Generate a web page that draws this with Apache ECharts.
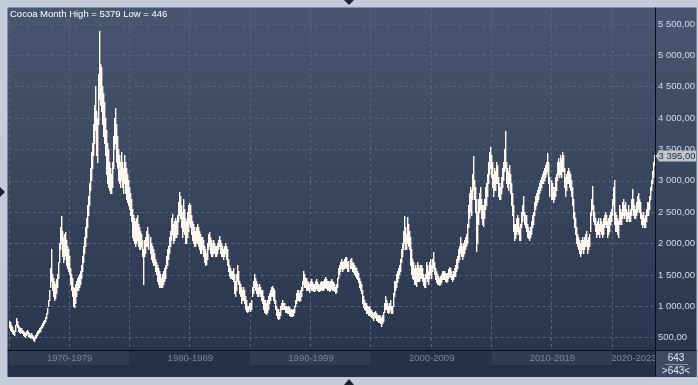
<!DOCTYPE html>
<html><head><meta charset="utf-8">
<script src="https://cdn.jsdelivr.net/npm/echarts@6/dist/echarts.min.js"></script>
<style>html,body{margin:0;padding:0;background:#c3cdd9}#c{width:698px;height:385px}</style>
</head><body><div id="c"></div>
<script>
// ---------- data ----------
const titleText = 'Cocoa Month High = 5379 Low = 446';
const startYear = 1970;
const decadeLabels = ['1970-1979','1980-1989','1990-1999','2000-2009','2010-2019','2020-2023'];
const yTicks = [500,1000,1500,2000,2500,3000,3500,4000,4500,5000,5500];
const lastValue = 3395;
const lows = [
660,620,600,560,550,540,600,700,660,600,580,560,
580,560,540,520,500,540,560,520,500,480,500,480,
460,446,480,500,540,560,580,600,640,660,700,720,
760,800,880,1000,1100,1300,1400,1250,1150,1100,1120,1200,
1300,1450,1700,1900,2000,1800,1700,1750,1800,1650,1600,1550,
1500,1350,1250,1150,1000,980,1050,1150,1250,1250,1300,1350,
1450,1550,1700,1850,1950,2100,2250,2450,2600,2850,3000,3200,
3400,3600,3800,3400,3300,3900,4300,4200,4100,3900,3700,3600,
3400,3100,2950,2900,2850,2800,2800,2900,3200,3500,3600,3300,
3200,3000,2950,2900,3000,2900,2800,2950,2800,2700,2650,2600,
2550,2450,2350,2100,2050,2000,1950,2000,2050,1950,1900,1900,
1950,1800,1350,1800,1850,1950,1950,1900,1850,1750,1700,1650,
1650,1550,1500,1400,1350,1300,1300,1300,1300,1350,1400,1450,
1600,1650,1750,1850,1950,2050,2150,2000,2050,2100,2100,2150,
2350,2450,2400,2250,2100,2200,2150,2000,2000,2100,2200,2300,
2250,2150,2050,2000,1950,1950,2000,2000,1950,1900,1850,1850,
1900,1800,1700,1650,1665,1750,1900,1950,1850,1800,1800,1850,
1850,1800,1800,1850,1900,1950,1850,1800,1800,1750,1800,1850,
1750,1650,1550,1480,1450,1450,1420,1400,1200,1160,1250,1400,
1350,1200,1150,1050,1100,1100,1050,950,920,900,920,950,
920,950,1150,1200,1300,1250,1200,1150,1150,1200,1150,1100,
1050,950,900,880,870,900,950,1050,1100,1150,1150,1100,
1050,950,850,800,790,800,850,950,950,950,950,900,
900,880,880,860,840,840,830,850,900,1000,1050,1100,
1100,1080,1100,1150,1250,1350,1300,1300,1250,1250,1250,1220,
1280,1260,1250,1240,1240,1260,1280,1250,1240,1230,1250,1270,
1250,1260,1280,1300,1280,1260,1250,1240,1260,1280,1260,1250,
1230,1200,1220,1300,1450,1500,1550,1600,1550,1580,1600,1620,
1600,1550,1560,1600,1600,1560,1540,1500,1480,1450,1420,1380,
1300,1250,1200,1050,980,950,930,880,880,850,860,830,
820,800,780,800,820,780,760,750,740,720,680,720,
760,900,950,950,900,880,900,950,880,880,1000,1150,
1250,1300,1380,1450,1500,1550,1700,1800,1900,2000,1900,1900,
2000,1950,1900,1650,1500,1450,1420,1350,1350,1320,1400,1400,
1400,1450,1450,1400,1330,1300,1300,1450,1400,1350,1450,1500,
1450,1550,1600,1500,1420,1380,1350,1350,1330,1350,1380,1420,
1420,1430,1400,1380,1400,1450,1480,1460,1420,1400,1430,1470,
1480,1550,1600,1700,1750,1850,1800,1750,1800,1850,1900,1950,
2000,2250,2400,2500,2450,2700,2850,2700,2500,1870,2000,2300,
2500,2550,2400,2300,2280,2400,2550,2600,2750,2950,3100,3200,
3050,2900,2750,2850,2850,2950,2950,2750,2700,2700,2800,2900,
3000,3150,3200,2950,2900,2850,2950,2800,2600,2450,2200,2050,
2080,2150,2200,2150,2050,2050,2250,2350,2450,2300,2250,2200,
2100,2080,2050,2100,2150,2250,2300,2450,2550,2600,2650,2700,
2800,2850,2900,2950,2950,3000,3050,3100,3150,2950,2750,2700,
2700,2650,2700,2750,2850,3000,3100,3050,3100,3050,3150,3150,
2900,2750,2850,2950,2950,2900,2850,2750,2600,2400,2250,2150,
2000,1950,1900,1850,1800,1850,1900,1850,1900,1950,1950,1850,
1900,1950,2200,2450,2550,2350,2300,2200,2100,2150,2150,2100,
2200,2150,2100,2150,2250,2300,2250,2100,2150,2200,2300,2350,
2450,2600,2300,2200,2200,2150,2100,2300,2300,2300,2400,2450,
2400,2450,2350,2350,2400,2350,2350,2450,2550,2450,2400,2400,
2450,2500,2550,2500,2400,2300,2250,2300,2250,2250,2350,2450,
2450,2550,2700,2850,2950,3050,3250
];
const highs = [
760,740,700,660,620,600,700,800,760,700,660,640,
640,620,600,580,560,600,620,580,560,540,560,540,
520,500,540,560,600,620,640,660,700,720,760,780,
820,880,960,1100,1250,1600,1900,1500,1450,1400,1350,1420,
1500,1700,2000,2250,2430,2200,2100,2150,2175,2050,1950,1900,
1800,1600,1500,1450,1300,1280,1350,1400,1450,1480,1500,1550,
1650,1800,1950,2100,2250,2400,2600,2750,2950,3200,3450,3600,
3900,4200,4500,4100,4000,4700,5379,4850,4800,4500,4400,4250,
4000,3800,3600,3500,3300,3200,3100,3300,3700,4000,4157,3900,
3700,3500,3400,3300,3450,3300,3200,3400,3300,3200,3100,3000,
2900,2800,2700,2550,2450,2400,2350,2400,2450,2300,2250,2200,
2150,2050,1900,2050,2100,2200,2250,2150,2100,2000,1950,1900,
1850,1750,1700,1650,1600,1550,1500,1450,1500,1550,1600,1650,
1800,1900,1950,2100,2200,2400,2465,2300,2350,2400,2350,2450,
2650,2815,2750,2600,2500,2700,2550,2400,2350,2500,2600,2640,
2600,2450,2350,2300,2250,2200,2250,2300,2250,2200,2150,2100,
2100,2050,1950,1900,1850,2000,2150,2175,2100,2050,2000,2050,
2000,1950,1950,2000,2050,2115,2050,2000,1950,1900,1950,2000,
1950,1900,1750,1650,1600,1550,1550,1600,1500,1400,1500,1650,
1550,1400,1350,1300,1250,1300,1250,1150,1100,1000,1000,1050,
1050,1100,1300,1400,1500,1450,1400,1350,1300,1350,1300,1250,
1250,1150,1100,1100,1050,1100,1150,1200,1250,1300,1320,1280,
1250,1100,1000,950,950,900,1000,1050,1100,1050,1050,1000,
1000,980,1000,980,950,950,930,950,1000,1100,1200,1250,
1250,1200,1250,1300,1400,1555,1500,1450,1450,1400,1380,1350,
1400,1420,1380,1350,1350,1400,1420,1380,1350,1330,1380,1400,
1380,1400,1420,1460,1420,1400,1400,1380,1400,1420,1400,1380,
1350,1300,1350,1450,1600,1650,1700,1750,1700,1720,1750,1780,
1780,1700,1720,1750,1760,1700,1680,1650,1620,1600,1560,1520,
1450,1400,1350,1250,1150,1100,1050,1050,1000,980,1000,950,
930,900,880,900,920,880,860,850,850,840,800,850,
900,1050,1150,1100,1050,1000,1050,1100,1000,1000,1200,1395,
1400,1500,1550,1600,1650,1750,1900,2000,2200,2430,2250,2150,
2420,2300,2200,2100,1900,1750,1700,1600,1650,1600,1700,1650,
1600,1650,1650,1600,1500,1450,1500,1700,1650,1550,1700,1750,
1650,1750,1855,1700,1600,1550,1500,1480,1450,1480,1500,1550,
1550,1560,1520,1500,1520,1580,1620,1600,1550,1500,1560,1600,
1650,1750,1800,1900,1950,2100,2000,1950,2000,2050,2100,2150,
2300,2600,2800,2900,2850,3100,3390,3000,2900,2700,2500,2700,
2800,2900,2700,2600,2600,2700,2900,2950,3100,3300,3450,3535,
3400,3300,3100,3200,3150,3300,3250,3050,2950,2900,3050,3200,
3300,3500,3790,3300,3200,3150,3250,3100,2950,2800,2600,2300,
2300,2400,2450,2400,2250,2300,2500,2600,2750,2500,2450,2450,
2300,2250,2200,2250,2350,2450,2500,2650,2750,2800,2850,2900,
2950,3000,3050,3100,3150,3200,3250,3300,3440,3300,3050,3000,
2950,2900,2900,3050,3100,3300,3350,3300,3400,3350,3450,3400,
3200,3050,3100,3150,3200,3150,3100,3000,2900,2700,2500,2400,
2250,2150,2100,2050,2000,2050,2100,2050,2100,2150,2200,2050,
2100,2150,2500,2700,2915,2600,2500,2400,2300,2350,2400,2300,
2400,2350,2300,2400,2450,2500,2450,2350,2400,2450,2500,2550,
2700,2900,3005,2500,2450,2400,2350,2600,2550,2500,2650,2700,
2600,2650,2550,2500,2600,2500,2550,2700,2865,2700,2600,2550,
2650,2750,2800,2700,2650,2500,2450,2500,2400,2450,2550,2650,
2650,2750,2900,3000,3150,3300,3400
];

// ---------- derived ----------
const monthCount = lows.length;
const months = [];
for (let i = 0; i < monthCount; i++) {
  const m = (i % 12) + 1;
  months.push((startYear + Math.floor(i / 12)) + '-' + (m < 10 ? '0' + m : m));
}
const barData = lows.map((lo, i) => [i, lo, highs[i]]);
const decadeStarts = decadeLabels.map(l => (parseInt(l, 10) - startYear) * 12);
const labelIdx = decadeStarts.map((s, j) => {
  const e = j + 1 < decadeStarts.length ? decadeStarts[j + 1] - 1 : monthCount - 1;
  return Math.round((s + e) / 2);
});
function fmt(v) {
  return Math.round(v).toString().replace(/\B(?=(\d{3})+(?!\d))/g, ' ') + ',00';
}

// ---------- layout ----------
const W = 698, H = 385;
const L = 8.8, R = 655.5, T = 8, B = 350;
const yMin = 304, yMax = 5755;
const FONT = 'Liberation Sans, Arial, sans-serif';
const grid = { color: '#56657e', type: [3, 3], width: 1 };
const barColor = '#fff7f0';

const chart = echarts.init(document.getElementById('c'), null, { renderer: 'canvas' });

function staticGraphics(yv) {
  const g = [
    { type: 'rect', z: -100, shape: { x: 7.5, y: 7.5, width: 689, height: 343.5 },
      style: { fill: new echarts.graphic.LinearGradient(0, 0, 0, 1, [
        { offset: 0, color: '#48576f' }, { offset: 1, color: '#29354d' }]) } },
    { type: 'rect', z: -100, shape: { x: 7.5, y: 351, width: 689, height: 26 }, style: { fill: '#243048' } },
    { type: 'rect', z: -90, shape: { x: 656, y: 351, width: 40.5, height: 25.5 }, style: { fill: '#3d4a62' } },
    { type: 'line', z: 100, shape: { x1: 7.5, y1: 350.5, x2: 696.5, y2: 350.5 }, style: { stroke: '#0a0e16', lineWidth: 1 } },
    { type: 'line', z: 100, shape: { x1: 655.5, y1: 7.5, x2: 655.5, y2: 376.5 }, style: { stroke: '#0a0e16', lineWidth: 1 } },
    { type: 'line', z: 100, shape: { x1: 665, y1: 364.5, x2: 688, y2: 364.5 }, style: { stroke: '#8795ab', lineWidth: 1 } },
    { type: 'text', z: 100, x: 676, y: 358, style: { text: String(monthCount), fill: '#e2e8f1', font: '10px ' + FONT, align: 'center', verticalAlign: 'middle' } },
    { type: 'text', z: 100, x: 676, y: 371, style: { text: '>' + monthCount + '<', fill: '#e2e8f1', font: '10px ' + FONT, align: 'center', verticalAlign: 'middle' } },
    { type: 'polygon', z: 100, shape: { points: [[344, 0], [354, 0], [349, 5]] }, style: { fill: '#1b2333' } },
    { type: 'polygon', z: 100, shape: { points: [[344, 385], [354, 385], [349, 379]] }, style: { fill: '#1b2333' } },
    { type: 'polygon', z: 100, shape: { points: [[0, 187], [0, 197], [5, 192]] }, style: { fill: '#1b2333' } }
  ];
  if (yv != null) {
    g.push(
      { type: 'polygon', z: 110, shape: { points: [[655.5, yv], [659.5, yv - 5.5], [659.5, yv + 5.5]] }, style: { fill: '#c3c7cd' } },
      { type: 'rect', z: 110, shape: { x: 658.5, y: yv - 5.5, width: 37.5, height: 11 }, style: { fill: '#c3c7cd' } },
      { type: 'text', z: 111, x: 677, y: yv + 0.5, style: { text: fmt(lastValue), fill: '#18263d', font: '9.5px ' + FONT, align: 'center', verticalAlign: 'middle' } }
    );
  }
  return g;
}

chart.setOption({
  animation: false,
  backgroundColor: 'transparent',
  title: {
    text: titleText, left: 10, top: 9, padding: 0,
    textStyle: { color: '#ffffff', fontSize: 9.5, fontWeight: 'normal', fontFamily: FONT }
  },
  grid: [
    { left: L, right: W - R, top: T, bottom: H - B },
    { left: L, right: W - R, top: 351, height: 14 }
  ],
  xAxis: [
    { type: 'category', gridIndex: 0, data: months, boundaryGap: true,
      axisLine: { show: false }, axisTick: { show: false }, axisLabel: { show: false },
      splitLine: { show: true, interval: 59, lineStyle: grid } },
    { type: 'category', gridIndex: 1, data: months, boundaryGap: true,
      axisLine: { show: false }, axisTick: { show: false }, splitLine: { show: false },
      splitArea: { show: true, interval: 119, areaStyle: { color: ['#2f3c54', '#263249'] } },
      axisLabel: { show: true, inside: true, margin: 2,
        interval: (i) => labelIdx.indexOf(i) >= 0,
        formatter: (v, i) => decadeLabels[labelIdx.indexOf(i)],
        color: '#7a879d', fontSize: 9.5, fontFamily: FONT } }
  ],
  yAxis: [
    { type: 'value', gridIndex: 0, position: 'right', min: yMin, max: yMax,
      axisLine: { show: false }, axisTick: { show: false, customValues: yTicks },
      axisLabel: { customValues: yTicks, formatter: fmt, color: '#d3dcea', fontSize: 9.5, fontFamily: FONT, margin: 3 },
      splitLine: { show: true, lineStyle: grid } },
    { type: 'value', gridIndex: 1, min: 0, max: 1, show: false }
  ],
  series: [{
    type: 'custom', xAxisIndex: 0, yAxisIndex: 0, data: barData,
    encode: { x: 0, y: [1, 2] },
    renderItem: function (params, api) {
      const idx = api.value(0);
      const pLo = api.coord([idx, api.value(1)]);
      const pHi = api.coord([idx, api.value(2)]);
      const x = Math.floor(pLo[0]);
      const y = Math.floor(pHi[1]);
      return {
        type: 'rect',
        shape: { x: x, y: y, width: 1.4, height: Math.max(1, Math.ceil(pLo[1]) - y) },
        style: { fill: barColor }
      };
    }
  }],
  graphic: staticGraphics(null)
});

const yv = chart.convertToPixel({ yAxisIndex: 0 }, lastValue);
chart.setOption({ graphic: staticGraphics(yv) }, { replaceMerge: ['graphic'] });
</script>
</body></html>
